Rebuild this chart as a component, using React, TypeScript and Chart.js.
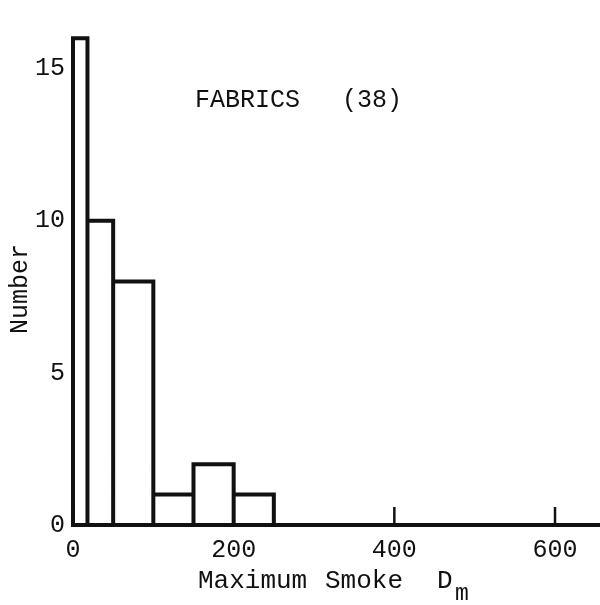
import React, { useEffect, useRef } from "react";
import { Chart, registerables } from "chart.js";

Chart.register(...registerables);

// ---- data ----
const binStarts = [0, 18, 50, 100, 150, 200];
const binEnds = [18, 50, 100, 150, 200, 250];
const counts = [16, 10, 8, 1, 2, 1];
const xTickValues = [0, 200, 400, 600];
const yTickValues = [0, 5, 10, 15];
const xMax = 656;
const yMax = 16.5;
const titleLeft = "FABRICS";
const titleRight = "(38)";
const xTitleWords = ["Maximum", "Smoke", "D"];
const xTitleSub = "m";
const yTitle = "Number";

const FONT = '"Liberation Mono", "DejaVu Sans Mono", monospace';
const INK = "#111111";

function histogramOutline() {
  const pts: { x: number; y: number }[] = [];
  for (let i = 0; i < counts.length; i++) {
    pts.push({ x: binStarts[i], y: 0 });
    pts.push({ x: binStarts[i], y: counts[i] });
    pts.push({ x: binEnds[i], y: counts[i] });
    pts.push({ x: binEnds[i], y: 0 });
  }
  return pts;
}

const decorPlugin = {
  id: "decor",
  afterDraw(chart: any) {
    const { ctx, chartArea } = chart;
    const x = chart.scales.x;
    ctx.save();
    // inward tick marks on the x axis
    ctx.strokeStyle = INK;
    ctx.lineWidth = 2.5;
    for (const t of x.ticks) {
      const px = x.getPixelForValue(t.value);
      ctx.beginPath();
      ctx.moveTo(px, chartArea.bottom);
      ctx.lineTo(px, chartArea.bottom - 18);
      ctx.stroke();
    }
    ctx.fillStyle = INK;
    ctx.textAlign = "left";
    ctx.textBaseline = "alphabetic";
    // in-plot title
    ctx.font = `25px ${FONT}`;
    ctx.fillText(titleLeft, 195, 107);
    ctx.fillText(titleRight, 342, 107);
    // x axis title
    ctx.font = `26px ${FONT}`;
    ctx.fillText(xTitleWords[0], 198, 588);
    ctx.fillText(xTitleWords[1], 325, 588);
    ctx.fillText(xTitleWords[2], 437, 588);
    ctx.font = `23px ${FONT}`;
    ctx.fillText(xTitleSub, 455, 600);
    // y axis title
    ctx.font = `25px ${FONT}`;
    ctx.translate(20, 289);
    ctx.rotate(-Math.PI / 2);
    ctx.textAlign = "center";
    ctx.textBaseline = "middle";
    ctx.fillText(yTitle, 0, 0);
    ctx.restore();
  },
};

export default function App() {
  const ref = useRef<HTMLCanvasElement | null>(null);
  useEffect(() => {
    if (!ref.current) return;
    const chart = new Chart(ref.current, {
      type: "scatter",
      data: {
        datasets: [
          {
            data: histogramOutline(),
            showLine: true,
            borderColor: INK,
            borderWidth: 4,
            pointRadius: 0,
            fill: false,
            tension: 0,
            clip: false,
            borderJoinStyle: "miter",
            borderCapStyle: "square",
          } as any,
        ],
      },
      options: {
        animation: false,
        responsive: false,
        maintainAspectRatio: false,
        layout: { padding: 0 },
        plugins: {
          legend: { display: false },
          tooltip: { enabled: false },
        },
        scales: {
          x: {
            type: "linear",
            min: 0,
            max: xMax,
            grid: { display: false, drawTicks: false, tickLength: 0 },
            border: { display: true, color: INK, width: 4 },
            ticks: {
              color: INK,
              font: { family: FONT, size: 25 },
              padding: 10,
              maxRotation: 0,
              autoSkip: false,
            },
            afterBuildTicks: (s: any) => {
              s.ticks = xTickValues.map((v) => ({ value: v }));
            },
            afterFit: (s: any) => {
              s.height = 80;
            },
          },
          y: {
            type: "linear",
            min: 0,
            max: yMax,
            grid: { display: false, drawTicks: false, tickLength: 0 },
            border: { display: false },
            ticks: {
              color: INK,
              font: { family: FONT, size: 25 },
              padding: 8,
              autoSkip: false,
            },
            afterBuildTicks: (s: any) => {
              s.ticks = yTickValues.map((v) => ({ value: v }));
            },
            afterFit: (s: any) => {
              s.width = 73;
            },
          },
        },
      } as any,
      plugins: [decorPlugin],
    });
    return () => chart.destroy();
  }, []);
  return (
    <div style={{ position: "absolute", left: 0, top: 0, width: 600, height: 605, background: "#fff" }}>
      <canvas ref={ref} width={600} height={605} style={{ width: 600, height: 605 }} />
    </div>
  );
}
